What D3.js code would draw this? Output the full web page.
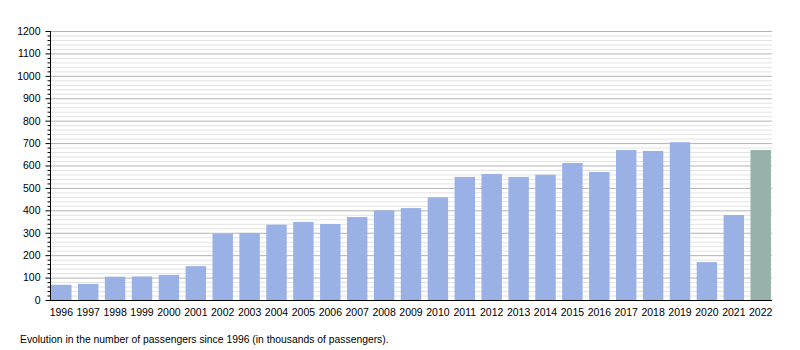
<!DOCTYPE html>
<html>
<head>
<meta charset="utf-8">
<script src="https://cdn.jsdelivr.net/npm/d3@7"></script>
<style>
  html, body { margin: 0; padding: 0; background: #fff; }
  svg { display: block; font-family: "Liberation Sans", Arial, sans-serif; }
</style>
</head>
<body>
<svg id="chart" width="800" height="350"></svg>
<script>
// Annual passengers (thousands)
const years = ["1996","1997","1998","1999","2000","2001","2002","2003","2004","2005",
               "2006","2007","2008","2009","2010","2011","2012","2013","2014","2015",
               "2016","2017","2018","2019","2020","2021","2022"];
const passengers = [68, 72, 104, 105, 112, 151, 297, 299, 336, 348,
                    339, 370, 400, 410, 458, 549, 562, 549, 559, 611,
                    571, 669, 665, 704, 169, 379, 669];
// Most recent year gets its own colour
const highlightYear = "2022";
const majorTicks = [0,100,200,300,400,500,600,700,800,900,1000,1100,1200];
const caption = "Evolution in the number of passengers since 1996 (in thousands of passengers).";

const svg = d3.select("#chart");
const plotLeft = 50, plotRight = 772, plotTop = 31, plotBottom = 300;

const x = d3.scaleBand().domain(years).range([plotLeft, plotRight])
  .paddingInner(0.24).paddingOuter(0.04);
const y = d3.scaleLinear().domain([0, 1200]).range([plotBottom, plotTop]);

const minorTicks = d3.range(0, 1201, 20).filter(v => v % 100 !== 0);

// grid
svg.append("g").selectAll("line").data(minorTicks).join("line")
  .attr("x1", plotLeft).attr("x2", plotRight)
  .attr("y1", d => y(d) + 0.5).attr("y2", d => y(d) + 0.5)
  .attr("stroke", "#e2e2e2").attr("stroke-width", 1);
svg.append("g").selectAll("line").data(majorTicks.filter(v => v > 0)).join("line")
  .attr("x1", plotLeft).attr("x2", plotRight)
  .attr("y1", d => y(d) + 0.5).attr("y2", d => y(d) + 0.5)
  .attr("stroke", "#b4b4b4").attr("stroke-width", 1);

// bars
svg.append("g").selectAll("rect").data(years).join("rect")
  .attr("x", d => x(d))
  .attr("width", x.bandwidth())
  .attr("y", (d, i) => y(passengers[i]))
  .attr("height", (d, i) => plotBottom - y(passengers[i]))
  .attr("fill", d => d === highlightYear ? "#97b2ab" : "#9ab1e5");

// y axis with minor ticks
const yAxis = svg.append("g").attr("transform", `translate(${plotLeft + 0.5},0)`);
yAxis.call(d3.axisLeft(y).tickValues(majorTicks).tickSize(5).tickPadding(5).tickFormat(d3.format("d")))
  .call(g => g.select(".domain").attr("d", `M0,${plotTop}V${plotBottom}`).attr("stroke", "#000"))
  .call(g => g.selectAll(".tick line").attr("stroke", "#000"))
  .call(g => g.selectAll(".tick text").attr("font-size", "10.5px").attr("fill", "#000")
    .attr("font-family", "Liberation Sans, Arial, sans-serif"));
yAxis.append("g").selectAll("line").data(minorTicks).join("line")
  .attr("x1", -3).attr("x2", 0)
  .attr("y1", d => y(d) + 0.5).attr("y2", d => y(d) + 0.5)
  .attr("stroke", "#000");

// x axis
const xAxis = svg.append("g").attr("transform", `translate(0,${plotBottom + 0.5})`);
xAxis.call(d3.axisBottom(x).tickSize(0).tickPadding(8))
  .call(g => g.select(".domain").attr("d", `M${plotLeft},0H${plotRight}`).attr("stroke", "#000"))
  .call(g => g.selectAll(".tick text").attr("font-size", "10.5px").attr("fill", "#000")
    .attr("font-family", "Liberation Sans, Arial, sans-serif"));

// caption
svg.append("text")
  .attr("x", 20).attr("y", 343)
  .attr("font-size", "10.35px")
  .attr("fill", "#000")
  .text(caption);
</script>
</body>
</html>
